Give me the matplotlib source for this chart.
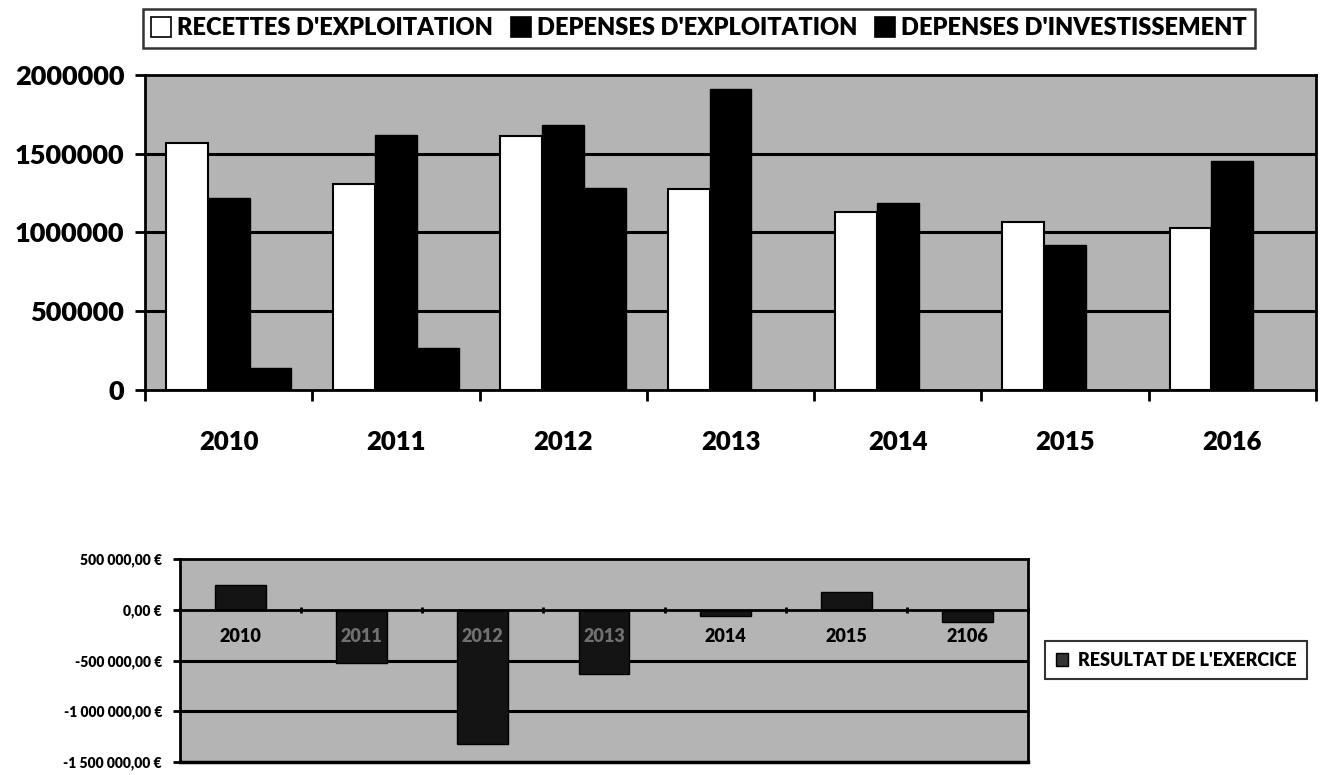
import matplotlib
matplotlib.use("Agg")
import matplotlib.pyplot as plt
from matplotlib.patches import Patch
import numpy as np

plt.rcParams['font.family'] = ['Lato', 'DejaVu Sans']
plt.rcParams['font.weight'] = 'heavy'

years = ['2010', '2011', '2012', '2013', '2014', '2015', '2016']
recettes = [1568000, 1309000, 1614000, 1275000, 1128000, 1068000, 1028000]
dep_exploit = [1222000, 1621000, 1684000, 1911000, 1185000, 919000, 1453000]
dep_invest = [138000, 265000, 1280000, 0, 0, 0, 0]
series_names = ["RECETTES D'EXPLOITATION", "DEPENSES D'EXPLOITATION", "DEPENSES D'INVESTISSEMENT"]

res_labels = ['2010', '2011', '2012', '2013', '2014', '2015', '2106']
resultat = [245000, -523000, -1320000, -637000, -62000, 172000, -124000]
res_name = "RESULTAT DE L'EXERCICE"

top_ticks = [0, 500000, 1000000, 1500000, 2000000]
bot_ticks = [500000, 0, -500000, -1000000, -1500000]
bot_tick_labels = ['500 000,00 €', '0,00 €', '-500 000,00 €', '-1 000 000,00 €', '-1 500 000,00 €']

W, H = 1322, 775
fig = plt.figure(figsize=(W / 100, H / 100), dpi=100)
bg = '#b4b4b4'
FW = 'heavy'

# ---------- top chart ----------
ax = fig.add_axes([145 / W, 1 - 390 / H, (1316 - 145) / W, (390 - 75) / H])
ax.set_facecolor(bg)
x = np.arange(len(years))
bw = 0.25
for gy in top_ticks[1:-1]:
    ax.axhline(gy, color='black', lw=2.2, zorder=0.5)
ax.bar(x - bw, recettes, bw, color='white', edgecolor='black', lw=1.5, zorder=2)
ax.bar(x, dep_exploit, bw, color='black', edgecolor='black', lw=1.0, zorder=2)
ax.bar(x + bw, dep_invest, bw, color='black', edgecolor='black', lw=1.0, zorder=2)
ax.set_xlim(-0.5, len(years) - 0.5)
ax.set_ylim(0, 2000000)
ax.set_yticks(top_ticks)
ax.set_yticklabels([str(t) for t in top_ticks], fontsize=19.5, fontweight=FW)
ax.tick_params(axis='y', length=7, width=2, pad=8, direction='out')
ax.set_xticks(x)
ax.set_xticklabels(years, fontsize=18.5, fontweight=FW)
ax.tick_params(axis='x', which='major', length=0, pad=29)
ax.set_xticks(np.arange(-0.5, len(years), 1.0), minor=True)
ax.tick_params(axis='x', which='minor', length=8, width=2, direction='out')
for s in ax.spines.values():
    s.set_linewidth(2)

handles = [Patch(facecolor='white', edgecolor='black', lw=1.2),
           Patch(facecolor='black', edgecolor='black', lw=1.2),
           Patch(facecolor='black', edgecolor='black', lw=1.2)]
leg = fig.legend(handles, series_names, loc='upper left', bbox_to_anchor=(143 / W, 1 - 9 / H),
                 ncol=3, frameon=True, fancybox=False, edgecolor='black',
                 prop={'size': 17, 'weight': FW}, handlelength=0.85, handleheight=0.9,
                 handletextpad=0.25, columnspacing=0.75, borderpad=0.35, borderaxespad=0)
leg.get_frame().set_linewidth(1.8)

# ---------- bottom chart ----------
ax2 = fig.add_axes([180 / W, 1 - 762 / H, (1028 - 180) / W, (762 - 559) / H])
ax2.set_facecolor(bg)
x2 = np.arange(len(res_labels))
for gy in [-500000, -1000000]:
    ax2.axhline(gy, color='black', lw=2.2, zorder=0.5)
ax2.bar(x2, resultat, 0.42, color='#141414', edgecolor='black', lw=1.0, zorder=1.2)
ax2.set_xlim(-0.5, len(res_labels) - 0.5)
ax2.set_ylim(-1500000, 500000)
ax2.set_yticks(bot_ticks)
ax2.set_yticklabels(bot_tick_labels, fontsize=10, fontweight=FW)
ax2.tick_params(axis='y', length=5, width=2, pad=8, direction='out')
ax2.spines['bottom'].set_position(('data', 0))
ax2.set_xticks(x2)
ax2.set_xticklabels(res_labels, fontsize=13, fontweight=FW)
ax2.tick_params(axis='x', which='major', length=0, pad=13)
ax2.set_xticks(np.arange(-0.5, len(res_labels), 1.0), minor=True)
ax2.tick_params(axis='x', which='minor', length=5, width=2, direction='inout')
for lab, v in zip(ax2.get_xticklabels(), resultat):
    if v < -300000:
        lab.set_color('#707070')
for s in ax2.spines.values():
    s.set_linewidth(2)
ax2.axhline(-1500000, color='black', lw=2.5, zorder=3, clip_on=False)

leg2 = fig.legend([Patch(facecolor='#333333', edgecolor='black', lw=1)], [res_name],
                  loc='center left', bbox_to_anchor=(1045 / W, 1 - 660 / H),
                  frameon=True, fancybox=False, edgecolor='black',
                  prop={'size': 13, 'weight': FW}, handlelength=0.7, handleheight=0.7,
                  handletextpad=0.5, borderpad=0.6, borderaxespad=0)
leg2.get_frame().set_linewidth(1.5)

fig.savefig('out.png', dpi=100, facecolor='white')
